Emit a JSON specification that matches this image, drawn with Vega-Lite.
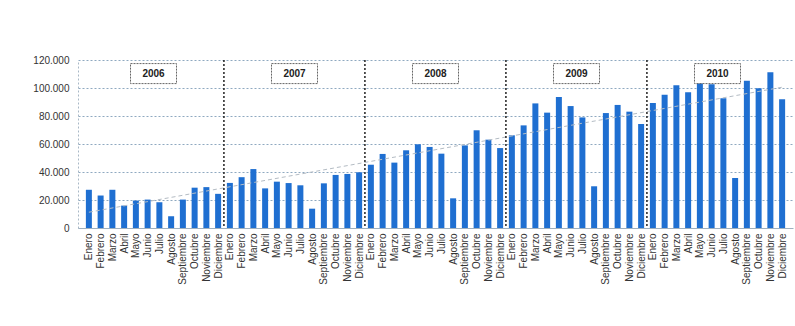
{
  "$schema": "https://vega.github.io/schema/vega-lite/v6.json",
  "width": 715,
  "height": 168,
  "autosize": "none",
  "padding": {"left": 78, "top": 60, "right": 2, "bottom": 98},
  "background": "white",
  "config": {
    "view": {"stroke": null},
    "font": "Liberation Sans",
    "locale": {"number": {"decimal": ",", "thousands": ".", "grouping": [3], "currency": ["", " €"]}},
    "axisY": {
      "tickCount": 6,
      "labelFontSize": 10,
      "labelColor": "#333333",
      "labelPadding": 9,
      "labelOverlap": false,
      "labelBound": false,
      "labelFlush": false,
      "ticks": false,
      "grid": true,
      "gridColor": "#8fa9c0",
      "gridDash": [2, 2],
      "gridWidth": 1,
      "domain": true,
      "domainColor": "#a9b8c6",
      "domainDash": [2, 2]
    }
  },
  "data": {
    "values": [
      {"i": 1, "anio": "2006", "mes": "Enero", "v": 27300},
      {"i": 2, "anio": "2006", "mes": "Febrero", "v": 23200},
      {"i": 3, "anio": "2006", "mes": "Marzo", "v": 27300},
      {"i": 4, "anio": "2006", "mes": "Abril", "v": 16000},
      {"i": 5, "anio": "2006", "mes": "Mayo", "v": 19600},
      {"i": 6, "anio": "2006", "mes": "Junio", "v": 20300},
      {"i": 7, "anio": "2006", "mes": "Julio", "v": 18400},
      {"i": 8, "anio": "2006", "mes": "Agosto", "v": 8400},
      {"i": 9, "anio": "2006", "mes": "Septiembre", "v": 20300},
      {"i": 10, "anio": "2006", "mes": "Octubre", "v": 28800},
      {"i": 11, "anio": "2006", "mes": "Noviembre", "v": 29200},
      {"i": 12, "anio": "2006", "mes": "Diciembre", "v": 24400},
      {"i": 13, "anio": "2007", "mes": "Enero", "v": 32200},
      {"i": 14, "anio": "2007", "mes": "Febrero", "v": 36300},
      {"i": 15, "anio": "2007", "mes": "Marzo", "v": 42100},
      {"i": 16, "anio": "2007", "mes": "Abril", "v": 28300},
      {"i": 17, "anio": "2007", "mes": "Mayo", "v": 33100},
      {"i": 18, "anio": "2007", "mes": "Junio", "v": 32100},
      {"i": 19, "anio": "2007", "mes": "Julio", "v": 30500},
      {"i": 20, "anio": "2007", "mes": "Agosto", "v": 13800},
      {"i": 21, "anio": "2007", "mes": "Septiembre", "v": 31900},
      {"i": 22, "anio": "2007", "mes": "Octubre", "v": 37900},
      {"i": 23, "anio": "2007", "mes": "Noviembre", "v": 38600},
      {"i": 24, "anio": "2007", "mes": "Diciembre", "v": 39800},
      {"i": 25, "anio": "2008", "mes": "Enero", "v": 45200},
      {"i": 26, "anio": "2008", "mes": "Febrero", "v": 52900},
      {"i": 27, "anio": "2008", "mes": "Marzo", "v": 46700},
      {"i": 28, "anio": "2008", "mes": "Abril", "v": 55500},
      {"i": 29, "anio": "2008", "mes": "Mayo", "v": 59800},
      {"i": 30, "anio": "2008", "mes": "Junio", "v": 57900},
      {"i": 31, "anio": "2008", "mes": "Julio", "v": 53100},
      {"i": 32, "anio": "2008", "mes": "Agosto", "v": 21200},
      {"i": 33, "anio": "2008", "mes": "Septiembre", "v": 59000},
      {"i": 34, "anio": "2008", "mes": "Octubre", "v": 69800},
      {"i": 35, "anio": "2008", "mes": "Noviembre", "v": 63100},
      {"i": 36, "anio": "2008", "mes": "Diciembre", "v": 57100},
      {"i": 37, "anio": "2009", "mes": "Enero", "v": 66200},
      {"i": 38, "anio": "2009", "mes": "Febrero", "v": 73300},
      {"i": 39, "anio": "2009", "mes": "Marzo", "v": 89000},
      {"i": 40, "anio": "2009", "mes": "Abril", "v": 82400},
      {"i": 41, "anio": "2009", "mes": "Mayo", "v": 93600},
      {"i": 42, "anio": "2009", "mes": "Junio", "v": 87100},
      {"i": 43, "anio": "2009", "mes": "Julio", "v": 79000},
      {"i": 44, "anio": "2009", "mes": "Agosto", "v": 29800},
      {"i": 45, "anio": "2009", "mes": "Septiembre", "v": 82100},
      {"i": 46, "anio": "2009", "mes": "Octubre", "v": 87900},
      {"i": 47, "anio": "2009", "mes": "Noviembre", "v": 83100},
      {"i": 48, "anio": "2009", "mes": "Diciembre", "v": 74300},
      {"i": 49, "anio": "2010", "mes": "Enero", "v": 89300},
      {"i": 50, "anio": "2010", "mes": "Febrero", "v": 95200},
      {"i": 51, "anio": "2010", "mes": "Marzo", "v": 101900},
      {"i": 52, "anio": "2010", "mes": "Abril", "v": 96900},
      {"i": 53, "anio": "2010", "mes": "Mayo", "v": 104000},
      {"i": 54, "anio": "2010", "mes": "Junio", "v": 102600},
      {"i": 55, "anio": "2010", "mes": "Julio", "v": 92600},
      {"i": 56, "anio": "2010", "mes": "Agosto", "v": 35700},
      {"i": 57, "anio": "2010", "mes": "Septiembre", "v": 105200},
      {"i": 58, "anio": "2010", "mes": "Octubre", "v": 99800},
      {"i": 59, "anio": "2010", "mes": "Noviembre", "v": 111200},
      {"i": 60, "anio": "2010", "mes": "Diciembre", "v": 91900}
    ]
  },
  "encoding": {
    "x": {
      "field": "i",
      "type": "quantitative",
      "scale": {"domain": [0.5, 60.5], "nice": false, "zero": false},
      "axis": {
        "title": null,
        "values": [1,2,3,4,5,6,7,8,9,10,11,12,13,14,15,16,17,18,19,20,21,22,23,24,25,26,27,28,29,30,31,32,33,34,35,36,37,38,39,40,41,42,43,44,45,46,47,48,49,50,51,52,53,54,55,56,57,58,59,60],
        "labelExpr": "['Enero','Febrero','Marzo','Abril','Mayo','Junio','Julio','Agosto','Septiembre','Octubre','Noviembre','Diciembre'][(datum.value - 1) % 12]",
        "labelAngle": 270,
        "labelFontSize": 10,
        "labelColor": "#333333",
        "labelPadding": 5,
        "labelOverlap": false,
        "labelBound": false,
        "labelFlush": false,
        "ticks": false,
        "grid": false,
        "domainColor": "#9fb0bf",
        "domainWidth": 1
      }
    }
  },
  "layer": [
    {
      "mark": {"type": "bar", "size": 6, "color": "#1f6fd1"},
      "encoding": {
        "y": {
          "field": "v",
          "type": "quantitative",
          "scale": {"domain": [0, 120000], "nice": false},
          "axis": {"title": null, "format": ",.0f", "tickCount": 6}
        }
      }
    },
    {
      "transform": [{"regression": "v", "on": "i"}],
      "mark": {"type": "line", "color": "#b4bcc4", "strokeDash": [4, 3], "strokeWidth": 1},
      "encoding": {
        "y": {"field": "v", "type": "quantitative", "axis": {"title": null, "format": ",.0f", "tickCount": 6}}
      }
    },
    {
      "transform": [
        {"aggregate": [{"op": "min", "field": "i", "as": "inicio"}], "groupby": ["anio"]},
        {"filter": "datum.anio !== '2006'"}
      ],
      "mark": {"type": "rule", "xOffset": -5.96, "color": "#222222", "strokeDash": [2, 2], "strokeWidth": 1.5},
      "encoding": {
        "x": {"field": "inicio", "type": "quantitative"}
      }
    },
    {
      "transform": [
        {"aggregate": [{"op": "mean", "field": "i", "as": "centro"}], "groupby": ["anio"]}
      ],
      "mark": {
        "type": "point",
        "shape": "M-1,-0.435L1,-0.435L1,0.435L-1,0.435Z",
        "size": 2116,
        "filled": true,
        "fill": "white",
        "fillOpacity": 1,
        "stroke": "#666666",
        "strokeWidth": 1,
        "strokeDash": [2, 1],
        "opacity": 1
      },
      "encoding": {
        "x": {"field": "centro", "type": "quantitative"},
        "y": {"datum": 110300, "type": "quantitative", "axis": {"title": null, "format": ",.0f", "tickCount": 6}}
      }
    },
    {
      "transform": [
        {"aggregate": [{"op": "mean", "field": "i", "as": "centro"}], "groupby": ["anio"]}
      ],
      "mark": {"type": "text", "fontSize": 10, "fontWeight": "bold", "color": "#222222", "baseline": "middle", "align": "center"},
      "encoding": {
        "x": {"field": "centro", "type": "quantitative"},
        "y": {"datum": 110300, "type": "quantitative", "axis": {"title": null, "format": ",.0f", "tickCount": 6}},
        "text": {"field": "anio"}
      }
    }
  ]
}
